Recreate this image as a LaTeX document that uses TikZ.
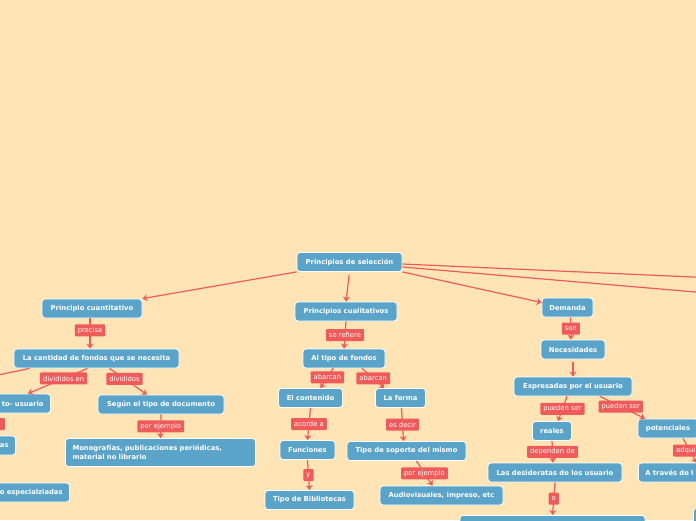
\documentclass[tikz,border=0pt]{standalone}
\usepackage{fontspec}
\setmainfont{DejaVu Sans}
\usetikzlibrary{positioning, arrows.meta, calc}
\definecolor{cfondo}{HTML}{FFE5B6}
\definecolor{ccaja}{HTML}{5BA4C9}
\definecolor{cetiq}{HTML}{EF5A5A}

\tikzset{
  caja/.style={draw=white, line width=0.8pt, fill=ccaja, rounded corners=3pt,
    text=white, font=\fontsize{6.8}{9.5}\selectfont\bfseries,
    inner xsep=7pt, inner ysep=0pt, minimum height=19pt},
  etiq/.style={fill=cetiq, rounded corners=1pt, text=white,
    font=\fontsize{6.8}{7}\selectfont, inner xsep=3pt, inner ysep=0pt,
    minimum height=12pt},
  linea/.style={cetiq, line width=1.2pt},
  flecha/.style={linea, -{Stealth[length=5pt, width=7pt]}},
}

\begin{document}
\begin{tikzpicture}[x=1pt, y=-1pt]
  \fill[cfondo] (0,0) rectangle (696,520);
  \useasboundingbox (0,0) rectangle (696,520);
  \clip (0,0) rectangle (696,520);

  % raiz
  \node[caja, minimum width=105pt] (sel) at (349.5,262) {Principios de selección};

  % rama cuantitativa
  \node[caja, minimum width=100pt] (cuant) at (92,308.5) {Principio cuantitativo};
  \node[caja, minimum width=165pt] (cant) at (96.5,358.5) {La cantidad de fondos que se necesita};
  \node[caja, anchor=east, text width=90pt, align=right] (usu) at (51,403.5) {to- usuario};
  \node[caja, anchor=east, text width=90pt, align=right] (as) at (16,445.5) {as};
  \node[caja, anchor=east, text width=90pt, align=right] (esp) at (70,492.5) {o especialziadas};
  \node[caja, minimum width=126pt] (seg) at (161,404.5) {Según el tipo de documento};
  \node[caja, text width=176pt, minimum height=28pt, align=left] (mono) at (160.5,452.5)
       {Monografías, publicaciones periódicas,\\material no librario};

  % rama cualitativa
  \node[caja, minimum width=102pt] (cual) at (346,311.5) {Principios cualitativos};
  \node[caja, minimum width=82pt] (alt) at (344,358.5) {Al tipo de fondos};
  \node[caja, minimum width=64pt] (cont) at (310.5,398) {El contenido};
  \node[caja, minimum width=50pt] (forma) at (400.5,398) {La forma};
  \node[caja, minimum width=55pt] (func) at (307.5,450) {Funciones};
  \node[caja, minimum width=89pt] (tipo) at (309.5,500) {Tipo de Bibliotecas};
  \node[caja, minimum width=119pt] (sop) at (406.5,451) {Tipo de soporte del mismo};
  \node[caja, minimum width=123pt] (audio) at (441.5,495.5) {Audiovisuales, impreso, etc};

  % rama demanda
  \node[caja, minimum width=51pt] (dem) at (567.5,307.5) {Demanda};
  \node[caja, minimum width=64pt] (nec) at (573,349.5) {Necesidades};
  \node[caja, minimum width=118pt] (exp) at (573,386.5) {Expresadas por el usuario};
  \node[caja, minimum width=39pt] (rea) at (552,431) {reales};
  \node[caja, minimum width=60pt] (pot) at (668,428.5) {potenciales};
  \node[caja, minimum width=134pt] (des) at (555,472.5) {Las desideratas de los usuario};
  \node[caja, anchor=west, text width=102pt, align=left] (tra) at (638,472.5) {A través de l};
  \node[caja, anchor=north, minimum width=185pt, minimum height=20pt] (fin) at (552.5,515) {};
  \node[caja, anchor=north west, minimum width=30pt, minimum height=20pt] (der) at (693,508) {};

  % conectores desde la raiz
  \coordinate (fueraA) at (760,280);
  \coordinate (fueraB) at (760,297.5);
  \draw[flecha] (sel.south west) -- (cuant.north east);
  \draw[flecha, shorten <=3pt] (sel.south) -- (cual.north);
  \draw[flecha] (sel.south east) -- ($(dem.west)+(0,-5)$);
  \draw[linea] ($(sel.east)+(0,2)$) -- (fueraA);
  \draw[linea] ($(sel.east)+(0,5)$) -- (fueraB);

  % cuantitativo
  \coordinate (fueraO) at (-40,383);
  \draw[flecha] ($(cuant.south)+(-2,0)$) -- node[etiq, pos=0.4] {precisa} ($(cant.north)+(-6.5,0)$);
  \draw[linea] ($(cant.south west)+(16,0)$) -- (fueraO);
  \draw[flecha] ($(cant.south)+(-9,0)$) -- node[etiq, pos=0.4] {divididos en} ($(usu.north east)+(-23,0)$);
  \draw[flecha] ($(cant.south)+(13,0)$) -- node[etiq, pos=0.4] {divididos} ($(seg.north)+(-14,0)$);
  \node[etiq, anchor=east, minimum width=30pt] (etO) at (5,424) {};
  \draw[flecha] (seg.south) -- node[etiq] {por ejemplo} (mono.north);

  % cualitativo
  \draw[flecha] (cual.south) -- node[etiq] {se refiere} (alt.north);
  \draw[flecha] ($(alt.south)+(-11,0)$) -- node[etiq, pos=0.45] {abarcan} ($(cont.north)+(10,0)$);
  \draw[flecha] ($(alt.south)+(18,0)$) -- node[etiq] {abarcan} ($(forma.north)+(-16,0)$);
  \draw[flecha] (cont.south) -- node[etiq] {acorde a} (func.north);
  \draw[flecha] (func.south) -- node[etiq] {y} (tipo.north);
  \draw[flecha] ($(forma.south)+(1,0)$) -- node[etiq] {es decir} ($(sop.north)+(-3,0)$);
  \draw[flecha] ($(sop.south)+(10,0)$) -- node[etiq] {por ejemplo} ($(audio.north)+(-9,0)$);

  % demanda
  \draw[flecha] ($(dem.south)+(3,0)$) -- node[etiq] {son} ($(nec.north)+(-2,0)$);
  \draw[flecha, shorten <=3pt] (nec.south) -- (exp.north);
  \draw[flecha] ($(exp.south)+(-6,0)$) -- node[etiq] {pueden ser} ($(rea.north)+(6,0)$);
  \draw[flecha] ($(exp.south)+(27,0)$) -- node[etiq, pos=0.46] {pueden ser} ($(pot.north)+(-23,0)$);
  \draw[flecha] ($(pot.south)+(15,0)$) -- node[etiq, text width=27pt, align=left] {adqui} (tra.north);
  \draw[flecha] (rea.south) -- node[etiq] {dependen de} ($(des.north)+(-2,0)$);
  \draw[flecha] (des.south) -- node[etiq] {o} (fin.north);
\end{tikzpicture}
\end{document}
